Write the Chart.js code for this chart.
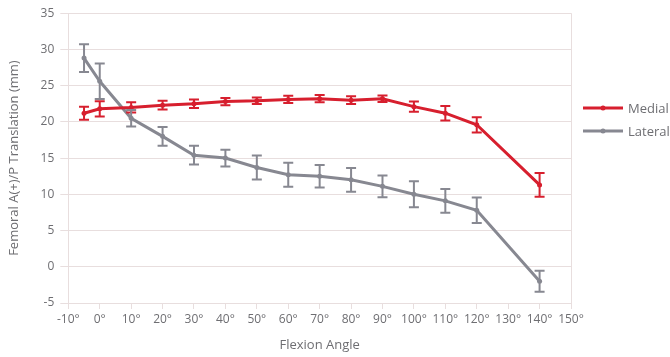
<!doctype html>
<html>
<head>
  <title>Femoral translation</title>
  <script src="https://cdn.jsdelivr.net/npm/chart.js@4.4.1/dist/chart.umd.min.js"></script>
  <style>
    html, body { margin: 0; padding: 0; background: #fff; }
    .chart { width: 670px; height: 357px; }
  </style>
</head>
<body>
  <div class="chart"><canvas id="myChart"></canvas></div>
  <script>
    // flexion angles (degrees)
    var angles = [-5, 0, 10, 20, 30, 40, 50, 60, 70, 80, 90, 100, 110, 120, 140];
    var medial = [21.2, 21.8, 22.0, 22.3, 22.5, 22.8, 22.9, 23.1, 23.2, 23.0, 23.2, 22.1, 21.2, 19.6, 11.3];
    var medialErr = [0.9, 1.05, 0.7, 0.6, 0.6, 0.5, 0.45, 0.5, 0.5, 0.55, 0.45, 0.7, 1.0, 1.05, 1.65];
    var lateral = [28.8, 25.6, 20.5, 18.0, 15.4, 15.0, 13.7, 12.7, 12.5, 12.0, 11.1, 10.0, 9.1, 7.8, -2.0];
    var lateralErr = [1.9, 2.45, 1.15, 1.3, 1.3, 1.15, 1.65, 1.65, 1.55, 1.65, 1.5, 1.8, 1.65, 1.75, 1.45];

    var red = '#d71f2e';
    var grey = '#878891';
    var textColor = '#6e6e72';
    var gridColor = '#e8dede';
    var fontFamily = '"Open Sans", Lato, sans-serif';

    function points(values) {
      return angles.map(function(a, i) { return { x: a, y: values[i] }; });
    }

    // error bars drawn through the scales
    var errorBars = {
      id: 'errorBars',
      afterDatasetsDraw: function(chart) {
        var ctx = chart.ctx;
        var xs = chart.scales.x, ys = chart.scales.y;
        chart.data.datasets.forEach(function(ds) {
          ctx.save();
          ctx.strokeStyle = ds.borderColor;
          ctx.lineWidth = 2;
          ds.data.forEach(function(p, i) {
            var e = ds.errors[i];
            var px = xs.getPixelForValue(p.x);
            var top = ys.getPixelForValue(p.y + e);
            var bot = ys.getPixelForValue(p.y - e);
            ctx.beginPath();
            ctx.moveTo(px, top); ctx.lineTo(px, bot);
            ctx.moveTo(px - 5, top); ctx.lineTo(px + 5, top);
            ctx.moveTo(px - 5, bot); ctx.lineTo(px + 5, bot);
            ctx.stroke();
          });
          ctx.restore();
        });
      }
    };

    // right border of the plot and the legend
    var frame = {
      id: 'frame',
      afterDraw: function(chart) {
        var ctx = chart.ctx, area = chart.chartArea;
        ctx.save();
        ctx.strokeStyle = gridColor;
        ctx.lineWidth = 1;
        ctx.beginPath();
        ctx.moveTo(Math.round(area.right) + 0.5, area.top);
        ctx.lineTo(Math.round(area.right) + 0.5, area.bottom);
        ctx.stroke();

        var lx = area.right + 12;
        var ly = 108;
        chart.data.datasets.forEach(function(ds, i) {
          var y = ly + i * 23;
          ctx.strokeStyle = ds.borderColor;
          ctx.lineWidth = 3;
          ctx.beginPath();
          ctx.moveTo(lx, y); ctx.lineTo(lx + 40, y);
          ctx.stroke();
          ctx.fillStyle = ds.borderColor;
          ctx.beginPath();
          ctx.arc(lx + 20, y, 2.5, 0, Math.PI * 2);
          ctx.fill();
          ctx.fillStyle = textColor;
          ctx.font = '13px ' + fontFamily;
          ctx.textBaseline = 'middle';
          ctx.fillText(ds.label, lx + 45, y + 1);
        });
        ctx.restore();
      }
    };

    var config = {
      type: 'line',
      data: {
        datasets: [{
          label: 'Medial',
          data: points(medial),
          errors: medialErr,
          borderColor: red,
          backgroundColor: red,
          borderWidth: 3,
          pointRadius: 2.5,
          pointBorderWidth: 0,
          tension: 0
        }, {
          label: 'Lateral',
          data: points(lateral),
          errors: lateralErr,
          borderColor: grey,
          backgroundColor: grey,
          borderWidth: 3,
          pointRadius: 2.5,
          pointBorderWidth: 0,
          tension: 0
        }]
      },
      options: {
        responsive: true,
        maintainAspectRatio: false,
        animation: false,
        layout: { padding: { left: 6, right: 99, top: 2, bottom: 4 } },
        plugins: {
          legend: { display: false },
          tooltip: { enabled: false }
        },
        scales: {
          x: {
            type: 'linear',
            min: -10,
            max: 150,
            ticks: {
              stepSize: 10,
              color: textColor,
              font: { family: fontFamily, size: 12 },
              padding: 3,
              maxRotation: 0,
              callback: function(v) { return v + '°'; }
            },
            grid: { drawOnChartArea: false, drawTicks: true, tickLength: 6, color: gridColor },
            border: { color: gridColor },
            title: {
              display: true,
              text: 'Flexion Angle',
              color: textColor,
              font: { family: fontFamily, size: 13 },
              padding: { top: 8, bottom: 0 }
            }
          },
          y: {
            type: 'linear',
            min: -5,
            max: 35,
            ticks: {
              stepSize: 5,
              color: textColor,
              font: { family: fontFamily, size: 12 },
              padding: 6
            },
            grid: { color: gridColor, tickLength: 8 },
            border: { color: gridColor },
            title: {
              display: true,
              text: 'Femoral A(+)/P Translation (mm)',
              color: textColor,
              font: { family: fontFamily, size: 13 },
              padding: { top: 0, bottom: 13 }
            }
          }
        }
      },
      plugins: [errorBars, frame]
    };

    window.onload = function() {
      var ctx = document.getElementById('myChart').getContext('2d');
      window.myChart = new Chart(ctx, config);
    };
  </script>
</body>
</html>
